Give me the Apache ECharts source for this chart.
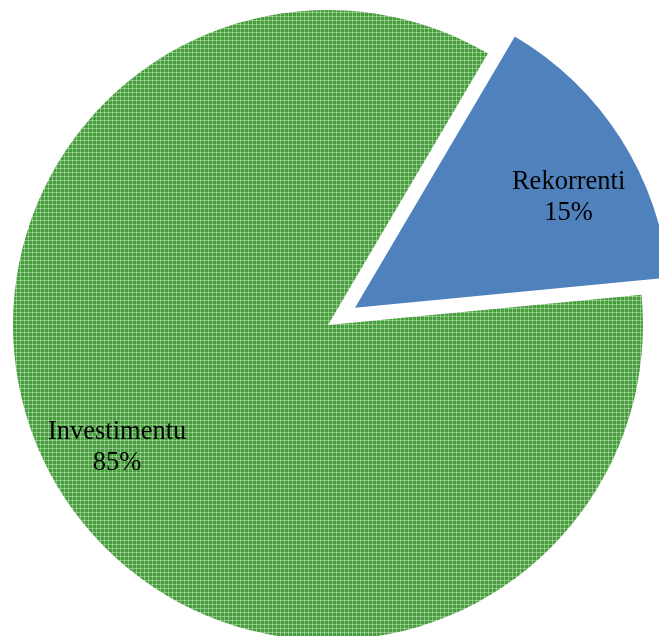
<!DOCTYPE html>
<html>
<head>
<meta charset="utf-8">
<script src="https://cdn.jsdelivr.net/npm/echarts@6/dist/echarts.min.js"></script>
<style>
html,body{margin:0;padding:0;background:#fff;}
#c{width:659px;height:636px;}
</style>
</head>
<body>
<div id="c"></div>
<script>
const categories = ['Rekorrenti', 'Investimentu'];
const values = [15, 85];
const percentLabels = ['15%', '85%'];

// hatch pattern for the green slice
const pat = document.createElement('canvas');
pat.width = 4; pat.height = 4;
const g = pat.getContext('2d');
g.fillStyle = '#4a9c40';
g.fillRect(0, 0, 4, 4);
g.fillStyle = '#84c47b';
g.fillRect(0, 0, 4, 1);
g.fillRect(0, 0, 1, 4);
g.fillStyle = '#acd9a5';
g.fillRect(0, 0, 1, 1);

const colors = ['#4f81bd', {image: pat, repeat: 'repeat'}];

const chart = echarts.init(document.getElementById('c'), null, {renderer: 'canvas'});
const center = [328, 325];
const R = 315;
const startAngle = 59.5;

const mainData = categories.map((c, i) => ({
  name: c, value: values[i], selected: i === 0,
  itemStyle: {color: colors[i]}
}));
function labelData(showIdx) {
  return categories.map((c, i) => ({
    name: c, value: values[i], selected: i === 0,
    label: {show: i === showIdx}
  }));
}
const labelStyle = {
  show: true,
  position: 'inside',
  fontFamily: '"Liberation Serif", "Times New Roman", serif',
  fontSize: 26.5,
  lineHeight: 31,
  color: '#000',
  formatter: p => p.name + '\n' + percentLabels[p.dataIndex]
};
function labelSeries(showIdx, inner, angleShift) {
  return {
    type: 'pie',
    center: center,
    radius: [inner, R],
    startAngle: startAngle + angleShift,
    clockwise: true,
    selectedMode: 'single',
    selectedOffset: 32,
    silent: true,
    itemStyle: {color: 'rgba(0,0,0,0)'},
    emphasis: {disabled: true},
    label: labelStyle,
    labelLine: {show: false},
    data: labelData(showIdx)
  };
}

chart.setOption({
  animation: false,
  series: [
    {
      type: 'pie',
      center: center,
      radius: [0, R],
      startAngle: startAngle,
      clockwise: true,
      selectedMode: 'single',
      selectedOffset: 32,
      silent: true,
      label: {show: false},
      labelLine: {show: false},
      emphasis: {disabled: true},
      data: mainData
    },
    labelSeries(0, 160, -4.5),
    labelSeries(1, 167, -2.3)
  ]
});
</script>
</body>
</html>
